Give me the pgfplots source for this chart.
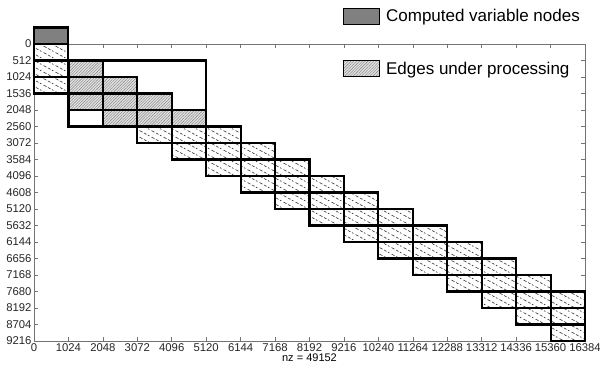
\documentclass[border=0pt]{standalone}
\usepackage{fontspec}
\setmainfont{Liberation Sans}
\usepackage{pgfplots}
\pgfplotsset{compat=1.18}
\usetikzlibrary{patterns,patterns.meta}

\pgfdeclarepatternformonly{spydiag}{\pgfqpoint{-1pt}{-1pt}}{\pgfqpoint{13pt}{7pt}}{\pgfqpoint{12pt}{6.5pt}}{
  \pgfsetlinewidth{0.6pt}
  \pgfpathmoveto{\pgfqpoint{0pt}{6.5pt}}\pgfpathlineto{\pgfqpoint{2.5pt}{5.15pt}}
  \pgfpathmoveto{\pgfqpoint{4pt}{4.33pt}}\pgfpathlineto{\pgfqpoint{5.5pt}{3.52pt}}
  \pgfpathmoveto{\pgfqpoint{7.5pt}{2.44pt}}\pgfpathlineto{\pgfqpoint{10.5pt}{0.81pt}}
  \pgfusepath{stroke}
}

\pgfplotsset{
  sparseblk/.style={draw=black, line width=2.1pt, fill=white, forget plot,
    postaction={pattern=spydiag, pattern color=black!80}},
  denseblk/.style={draw=black, line width=2.1pt, fill=black!12, forget plot,
    postaction={pattern={Lines[angle=45,distance=2pt,line width=0.4pt]}, pattern color=black!50}},
  winblk/.style={draw=black, line width=2.2pt, fill=none, forget plot},
  topblk/.style={draw=black, line width=2.1pt, fill=black!50, forget plot},
}
% block: x0, x1, y0, y1, style
\newcommand{\blk}[5]{\addplot[#5] coordinates {(#1,#3) (#2,#3) (#2,#4) (#1,#4)} --cycle;}

\begin{document}
\begin{tikzpicture}
\begin{axis}[
  set layers=standard,
  every axis plot/.append style={on layer=axis foreground},
  scale only axis, width=551pt, height=297pt,
  xmin=0, xmax=16384, ymin=0, ymax=9216, y dir=reverse,
  clip=false,
  xtick={0,1024,2048,3072,4096,5120,6144,7168,8192,9216,10240,11264,12288,13312,14336,15360,16384},
  ytick={0,512,1024,1536,2048,2560,3072,3584,4096,4608,5120,5632,6144,6656,7168,7680,8192,8704,9216},
  scaled ticks=false,
  /pgf/number format/set thousands separator={},
  /pgf/number format/assume math mode=true,
  tick label style={font=\fontsize{11.3}{12}\selectfont, black!85},
  tick align=inside, tick pos=both,
  major tick length=4pt,
  every tick/.style={black!55, line width=0.6pt},
  axis line style={black!55, line width=0.6pt},
  xticklabel style={yshift=1pt},
  yticklabel style={xshift=1pt},
  xlabel={nz = 49152},
  xlabel style={font=\fontsize{11}{12}\selectfont, yshift=5pt},
  legend image code/.code={\path[#1] (0pt,-8pt) rectangle (36pt,8pt);},
  legend style={at={(0.561,1.125)}, anchor=north west, draw=none, fill=none,
    inner sep=0pt, row sep=35pt, font=\fontsize{17}{20}\selectfont,
    nodes={inner xsep=6pt}},
  legend cell align=left,
]
% sparse blocks
\blk{0}{1024}{0}{512}{sparseblk}
\blk{0}{1024}{512}{1024}{sparseblk}
\blk{0}{1024}{1024}{1536}{sparseblk}
\blk{3072}{4096}{2560}{3072}{sparseblk}
\blk{4096}{5120}{2560}{3072}{sparseblk}
\blk{4096}{5120}{3072}{3584}{sparseblk}
\blk{5120}{6144}{2560}{3072}{sparseblk}
\blk{5120}{6144}{3072}{3584}{sparseblk}
\blk{5120}{6144}{3584}{4096}{sparseblk}
\blk{6144}{7168}{3072}{3584}{sparseblk}
\blk{6144}{7168}{3584}{4096}{sparseblk}
\blk{6144}{7168}{4096}{4608}{sparseblk}
\blk{7168}{8192}{3584}{4096}{sparseblk}
\blk{7168}{8192}{4096}{4608}{sparseblk}
\blk{7168}{8192}{4608}{5120}{sparseblk}
\blk{8192}{9216}{4096}{4608}{sparseblk}
\blk{8192}{9216}{4608}{5120}{sparseblk}
\blk{8192}{9216}{5120}{5632}{sparseblk}
\blk{9216}{10240}{4608}{5120}{sparseblk}
\blk{9216}{10240}{5120}{5632}{sparseblk}
\blk{9216}{10240}{5632}{6144}{sparseblk}
\blk{10240}{11264}{5120}{5632}{sparseblk}
\blk{10240}{11264}{5632}{6144}{sparseblk}
\blk{10240}{11264}{6144}{6656}{sparseblk}
\blk{11264}{12288}{5632}{6144}{sparseblk}
\blk{11264}{12288}{6144}{6656}{sparseblk}
\blk{11264}{12288}{6656}{7168}{sparseblk}
\blk{12288}{13312}{6144}{6656}{sparseblk}
\blk{12288}{13312}{6656}{7168}{sparseblk}
\blk{12288}{13312}{7168}{7680}{sparseblk}
\blk{13312}{14336}{6656}{7168}{sparseblk}
\blk{13312}{14336}{7168}{7680}{sparseblk}
\blk{13312}{14336}{7680}{8192}{sparseblk}
\blk{14336}{15360}{7168}{7680}{sparseblk}
\blk{14336}{15360}{7680}{8192}{sparseblk}
\blk{14336}{15360}{8192}{8704}{sparseblk}
\blk{15360}{16384}{7680}{8192}{sparseblk}
\blk{15360}{16384}{8192}{8704}{sparseblk}
\blk{15360}{16384}{8704}{9216}{sparseblk}
% dense blocks (edges under processing)
\blk{1024}{2048}{512}{1024}{denseblk}
\blk{1024}{2048}{1024}{1536}{denseblk}
\blk{1024}{2048}{1536}{2048}{denseblk}
\blk{2048}{3072}{1024}{1536}{denseblk}
\blk{2048}{3072}{1536}{2048}{denseblk}
\blk{2048}{3072}{2048}{2560}{denseblk}
\blk{3072}{4096}{1536}{2048}{denseblk}
\blk{3072}{4096}{2048}{2560}{denseblk}
\blk{4096}{5120}{2048}{2560}{denseblk}
% processing window outline
\blk{1024}{5120}{512}{2560}{winblk}
% computed variable nodes
\blk{0}{1024}{-512}{0}{topblk}
% legend
\addlegendimage{draw=black, line width=0.8pt, fill=black!50}
\addlegendentry{Computed variable nodes}
\addlegendimage{draw=black, line width=0.8pt, fill=black!12, postaction={pattern={Lines[angle=45,distance=2pt,line width=0.4pt]}, pattern color=black!50}}
\addlegendentry{Edges under processing}
\end{axis}
\pgfresetboundingbox
\path (-34pt,-26pt) rectangle (566pt,341pt);
\end{tikzpicture}
\end{document}
